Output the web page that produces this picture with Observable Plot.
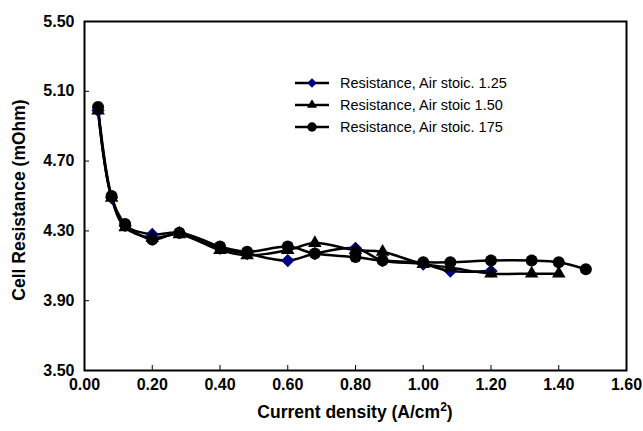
<!DOCTYPE html>
<html>
<head>
<meta charset="utf-8">
<script src="https://cdn.jsdelivr.net/npm/d3@7"></script>
<script src="https://cdn.jsdelivr.net/npm/@observablehq/plot@0.6"></script>
<style>
  html, body { margin: 0; padding: 0; background: #fff; }
  #chart { position: relative; width: 643px; height: 431px; }
  #legend { position: absolute; left: 294px; top: 72px; font-family: "Liberation Sans", Arial, sans-serif; font-size: 14.5px; color: #000; }
  #legend .row { display: flex; align-items: center; height: 22px; }
  #legend svg { margin-right: 8px; }
</style>
</head>
<body>
<div id="chart"><div id="legend"></div></div>
<script>
const currentDensity = [0.04, 0.08, 0.12, 0.20, 0.28, 0.40, 0.48, 0.60, 0.68, 0.80, 0.88, 1.00, 1.08, 1.20, 1.32, 1.40, 1.48];
const stoic125 = [4.99, 4.49, 4.33, 4.28, 4.29, 4.20, 4.17, 4.13, 4.17, 4.20, 4.13, 4.11, 4.07, 4.07];
const stoic150 = [4.99, 4.49, 4.32, 4.26, 4.28, 4.19, 4.16, 4.19, 4.23, 4.19, 4.18, 4.11, 4.09, 4.055, 4.055, 4.055];
const stoic175 = [5.01, 4.50, 4.34, 4.25, 4.29, 4.21, 4.18, 4.21, 4.17, 4.15, 4.13, 4.12, 4.12, 4.13, 4.13, 4.12, 4.08];
const seriesNames = ["Resistance, Air stoic. 1.25", "Resistance, Air stoic 1.50", "Resistance, Air stoic. 175"];
const xTicks = [0, 0.2, 0.4, 0.6, 0.8, 1.0, 1.2, 1.4, 1.6];
const yTicks = [3.5, 3.9, 4.3, 4.7, 5.1, 5.5];

const toRows = (vals, name) => vals.map((v, i) => ({x: currentDensity[i], y: v, series: name}));
const d125 = toRows(stoic125, seriesNames[0]);
const d150 = toRows(stoic150, seriesNames[1]);
const d175 = toRows(stoic175, seriesNames[2]);

const font = "'Liberation Sans', Arial, sans-serif";
const lineOpts = {x: "x", y: "y", stroke: "#000", strokeWidth: 2.5, curve: "catmull-rom"};

const plot = Plot.plot({
  width: 643,
  height: 431,
  marginLeft: 84,
  marginRight: 17,
  marginTop: 21,
  marginBottom: 61,
  style: {fontFamily: font, background: "#fff"},
  x: {domain: [0, 1.6]},
  y: {domain: [3.5, 5.5]},
  marks: [
    Plot.frame({stroke: "#000", strokeWidth: 2}),
    Plot.axisX({ticks: xTicks, tickFormat: d3.format(".2f"), tickSize: -5, tickPadding: 13, label: null,
      fontSize: 16, fontWeight: "bold"}),
    Plot.axisY({ticks: yTicks, tickFormat: d3.format(".2f"), tickSize: -5, tickPadding: 15, label: null,
      fontSize: 16, fontWeight: "bold"}),
    Plot.line(d125, lineOpts),
    Plot.line(d150, lineOpts),
    Plot.line(d175, lineOpts),
    Plot.dot(d125, {x: "x", y: "y", symbol: "diamond2", r: 6, fill: "#000080", stroke: "none"}),
    Plot.dot(d150, {x: "x", y: "y", symbol: "triangle2", r: 6.5, fill: "#000", stroke: "none"}),
    Plot.dot(d175, {x: "x", y: "y", symbol: "circle", r: 6, fill: "#000", stroke: "none"})
  ]
});

const chart = document.getElementById("chart");
chart.insertBefore(plot, chart.firstChild);

const svg = d3.select(plot);
const xl = svg.append("text")
  .attr("x", 355).attr("y", 418)
  .attr("text-anchor", "middle")
  .attr("font-family", font).attr("font-size", 17.5).attr("font-weight", "bold");
xl.append("tspan").text("Current density (A/cm");
xl.append("tspan").attr("font-size", 12).attr("dy", -7).text("2");
xl.append("tspan").attr("dy", 7).text(")");

svg.append("text")
  .attr("transform", "translate(25,200) rotate(-90)")
  .attr("text-anchor", "middle")
  .attr("font-family", font).attr("font-size", 17.5).attr("font-weight", "bold")
  .text("Cell Resistance (mOhm)");

// legend
const symbols = [
  {sym: d3.symbolDiamond2, size: 60, fill: "#000080"},
  {sym: d3.symbolTriangle2, size: 70, fill: "#000"},
  {sym: d3.symbolCircle, size: 70, fill: "#000"}
];
const legend = d3.select("#legend");
seriesNames.forEach((name, i) => {
  const row = legend.append("div").attr("class", "row");
  const s = row.append("svg").attr("width", 38).attr("height", 14);
  s.append("line").attr("x1", 1).attr("x2", 35).attr("y1", 7).attr("y2", 7).attr("stroke", "#000").attr("stroke-width", 2.5);
  s.append("path").attr("transform", "translate(18,7)")
    .attr("d", d3.symbol(symbols[i].sym, symbols[i].size)()).attr("fill", symbols[i].fill);
  row.append("span").text(name);
});
</script>
</body>
</html>
